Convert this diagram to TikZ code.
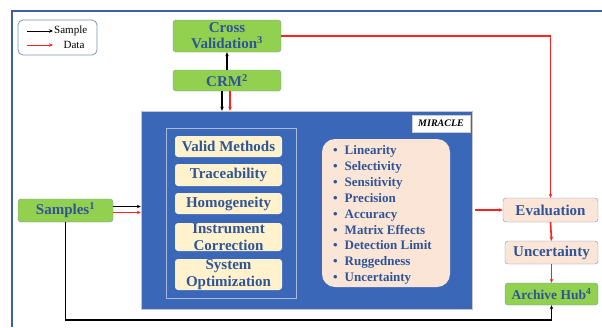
\documentclass[tikz,border=0pt]{standalone}
\usepackage{fontspec}
\setmainfont{Liberation Serif}
\usetikzlibrary{arrows.meta}
\definecolor{framecol}{HTML}{3F5FA3}
\definecolor{leaf}{HTML}{92D050}
\definecolor{boxline}{HTML}{7A93BF}
\definecolor{ink}{HTML}{2F5597}
\definecolor{core}{HTML}{3B67B9}
\definecolor{cream}{HTML}{FFF2CC}
\definecolor{peach}{HTML}{FBE5D6}
\definecolor{thinline}{HTML}{A9B9DA}
\definecolor{datared}{HTML}{FF2020}
\tikzstyle{greenbox}=[rectangle,rounded corners=3pt,draw=boxline,fill=leaf,
                      text=ink,font=\bfseries\fontsize{15}{16}\selectfont,
                      inner sep=0pt,align=center]
\tikzstyle{peachbox}=[rectangle,rounded corners=3pt,draw=boxline,fill=peach,
                      text=ink,font=\bfseries\fontsize{15}{16}\selectfont,
                      inner sep=0pt,minimum width=94pt,minimum height=23pt]
\tikzstyle{creambox}=[rectangle,rounded corners=3pt,fill=cream,text=ink,
                      font=\bfseries\fontsize{15}{17.5}\selectfont,
                      inner sep=0pt,minimum width=107pt,align=center]
\tikzstyle{listtext}=[anchor=base west,text=ink,inner sep=0pt,
                      font=\bfseries\fontsize{13}{14}\selectfont]
\tikzstyle{blackarrow}=[-{Stealth[length=4pt,width=3.5pt]},line width=1.2pt,black]
\tikzstyle{redarrow}=[-{Stealth[length=4pt,width=3.5pt]},line width=1.6pt,datared]

\begin{document}
\begin{tikzpicture}[x=1pt,y=-1pt]
  \useasboundingbox (0,0) rectangle (602,327);
  \draw[framecol,line width=2pt] (12,327) -- (12,11) -- (602,11);

  \draw[rounded corners=5pt,draw=boxline,fill=white,line width=0.8pt]
    (18,20) rectangle (97,55);
  \node (lgs) at (54,31) [anchor=west,inner sep=0pt,font=\fontsize{11}{12}\selectfont]{Sample};
  \node (lgd) at (74,45) [inner sep=0pt,font=\fontsize{11}{12}\selectfont]{Data};
  \coordinate (lga) at (27,31);
  \coordinate (lgb) at (27,45);
  \coordinate (lgc) at (53,45);
  \draw[blackarrow,line width=0.9pt] (lga) -- ([xshift=-1pt]lgs.west);
  \draw[redarrow,line width=0.9pt] (lgb) -- (lgc);

  \node (cv) at (227,36) [greenbox,minimum width=108pt,minimum height=32pt]
    {Cross\\Validation\textsuperscript{3}};
  \node (crm) at (227,80.5) [greenbox,minimum width=108pt,minimum height=21pt]
    {CRM\textsuperscript{2}};
  \node (samples) at (65.5,210.5) [greenbox,minimum width=95pt,minimum height=23pt]
    {Samples\textsuperscript{1}};

  \node (miracle) at (306.5,210) [rectangle,draw=gray!45,fill=core,
    minimum width=331pt,minimum height=198pt]{};
  \node (tag) at (441,123.5) [rectangle,fill=white,draw=gray!40,inner sep=0pt,
    minimum width=58pt,minimum height=17pt,
    font=\bfseries\itshape\fontsize{10}{11}\selectfont]{MIRACLE};
  \draw[thinline,line width=0.9pt] (166,128) rectangle (296,298);

  \node (valid) at (228.5,146.5) [creambox,minimum height=21pt]{Valid Methods};
  \node (trace) at (228.5,175) [creambox,minimum height=22pt]{Traceability};
  \node (homog) at (228.5,203.5) [creambox,minimum height=21pt]{Homogeneity};
  \node (instr) at (228.5,237) [creambox,minimum height=28pt]{Instrument\\Correction};
  \node (optim) at (228.5,274.5) [creambox,minimum height=31pt]{System\\Optimization};

  \node (checks) at (386,213) [rectangle,rounded corners=13pt,fill=peach,
    minimum width=128pt,minimum height=148pt]{};
  \foreach \txt [count=\i from 0] in {Linearity,Selectivity,Sensitivity,
      Precision,Accuracy,Matrix Effects,Detection Limit,Ruggedness,Uncertainty}
    \node (item\i) at (333,{154.5+15.9*\i}) [listtext]{\textbullet\hspace{7pt}\txt};

  \node (eval) at (550.5,210) [peachbox,minimum width=95pt,minimum height=24pt]{Evaluation};
  \node (unc) at (551.5,252.5) [peachbox,minimum width=93pt]{Uncertainty};
  \node (hub) at (551.5,294) [greenbox,minimum width=93pt,minimum height=22pt,
    font=\bfseries\fontsize{13.5}{14}\selectfont]{Archive Hub\textsuperscript{4}};

  \draw[blackarrow] (crm.north) -- (cv.south);
  \draw[blackarrow] ([xshift=-5pt]crm.south) -- ([xshift=-5pt]crm.south |- miracle.north);
  \draw[redarrow] ([xshift=3pt]crm.south) -- ([xshift=3pt]crm.south |- miracle.north);
  \draw[blackarrow] ([yshift=4pt]samples.east) -- ([yshift=4pt]samples.east -| miracle.west);
  \draw[redarrow] ([yshift=-2pt]samples.east) -- ([yshift=-2pt]samples.east -| miracle.west);
  \draw[redarrow] ([xshift=3pt]miracle.east |- eval.west) -- (eval.west);
  \draw[redarrow] (cv.east) -| (eval.north);
  \draw[redarrow] (eval.south) -- (unc.north);
  \draw[redarrow] (unc.south) -- (hub.north);
  \coordinate (low) at (0,320);
  \draw[blackarrow] (samples.south) -- (samples.south |- low) -| (hub.south);
\end{tikzpicture}
\end{document}
